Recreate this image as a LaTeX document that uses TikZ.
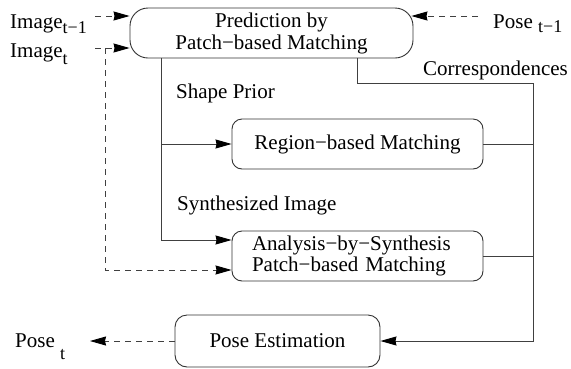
\documentclass[tikz,border=0pt]{standalone}
\usepackage{fontspec}
\setmainfont{Liberation Serif}
\usetikzlibrary{arrows.meta}

\newcommand{\lowsub}[2][6pt]{\raisebox{-#1}{\fontsize{18pt}{18pt}\selectfont #2}}

\tikzset{
    stagebox/.style={draw=black!80, line width=0.9pt, rounded corners=10pt, align=center,
        minimum width=251pt, minimum height=50pt, inner sep=0pt},
    flow/.style={draw=black!75, line width=0.9pt},
    flowarrow/.style={flow, -{Stealth[length=16pt,width=9pt,inset=1pt,black]}},
    dflow/.style={flowarrow, dashed, dash pattern=on 6pt off 5pt},
    tag/.style={anchor=base west, inner sep=0pt}
}

\begin{document}
\begin{tikzpicture}[x=1pt, y=-1pt, font=\fontsize{21pt}{22pt}\selectfont]
    \useasboundingbox (0,0) rectangle (571,368);

    % boxes
    \node[stagebox, rounded corners=18pt, minimum width=283pt] (pred) at (271.5,33)
        {Prediction by\\Patch−based Matching};
    \node[stagebox] (region) at (357.5,144) {Region−based Matching};
    \node[stagebox, align=left, text width=211pt, inner xsep=20pt,
        font=\fontsize{21pt}{19pt}\selectfont] (synth) at (357.5,256)
        {Analysis−by−Synthesis\\Patch−based Matching};
    \node[stagebox, minimum width=205pt, minimum height=52pt, rounded corners=12pt] (pose) at (277.5,341)
        {Pose Estimation};

    % texts
    \node[tag] (imgprev) at (10,28) {Image\lowsub[5pt]{t−1}};
    \node[tag] (imgcur) at (10,57) {Image\lowsub[7pt]{t}};
    \node[tag] (poseprev) at (493,28) {Pose \lowsub[4pt]{t−1}};
    \node[tag] (posecur) at (15,347) {Pose \lowsub[12pt]{t}};
    \node[tag] (corr) at (423,75) {Correspondences};
    \node[tag] (prior) at (176,98) {Shape Prior};
    \node[tag] (synthimg) at (177,210) {Synthesized Image};

    % free ends
    \coordinate (inprev) at (95,16);
    \coordinate (incur) at (95,48);
    \coordinate (imgdrop) at (105,48);
    \coordinate (posein) at (478,16);
    \coordinate (poseout) at (90,341);
    \coordinate (split) at (161,144);
    \coordinate (corrjoin) at (357,83);
    \coordinate (rail) at (533,83);

    % inputs
    \draw[dflow] (inprev) -- (inprev -| pred.west);
    \draw[dflow] (incur) -- (incur -| pred.west);
    \draw[dflow] (imgdrop) |- ([yshift=-14pt]synth.west);
    \draw[dflow] (posein) -- ([xshift=-2pt]posein -| pred.east);

    % prediction to matching
    \draw[flowarrow] (pred.south -| split) |- ([yshift=16pt]synth.west);
    \draw[flowarrow] (split) -- (region.west);

    % correspondences to pose estimation
    \draw[flow] (pred.south -| corrjoin) -- (corrjoin) -- (rail);
    \draw[flowarrow] (rail) |- (pose.east);
    \draw[flow] (region.east) -- (region.east -| rail);
    \draw[flow] (synth.east) -- (synth.east -| rail);

    \draw[dflow] (pose.west) -- (poseout);
\end{tikzpicture}
\end{document}
